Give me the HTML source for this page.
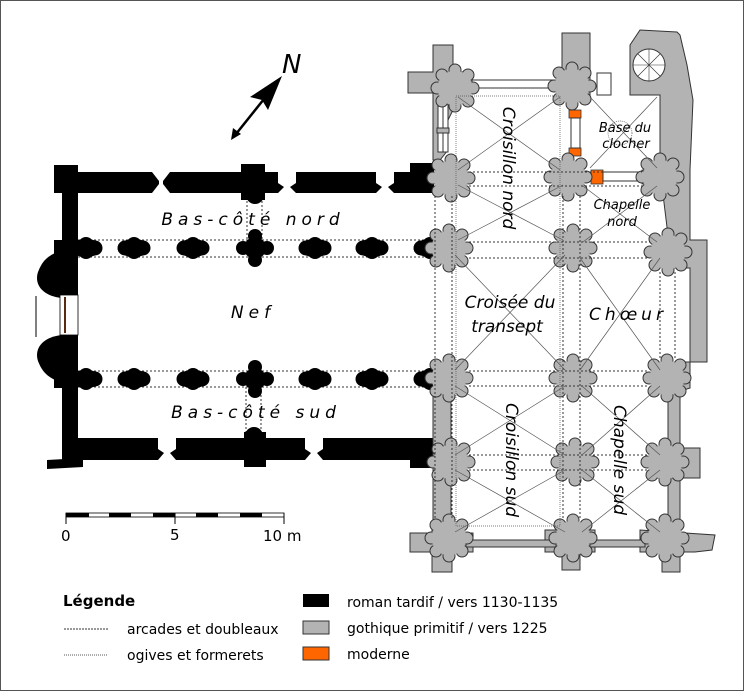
<!DOCTYPE html>
<html><head><meta charset="utf-8"><style>
html,body{margin:0;padding:0;background:#fff}
svg{display:block}
text{font-family:"DejaVu Sans","Liberation Sans",sans-serif}
</style></head><body>
<svg width="744" height="691" viewBox="0 0 744 691" xmlns="http://www.w3.org/2000/svg">
<defs>
<g id="gp"><circle r="16" fill="#b3b3b3" stroke="#333" stroke-width="1"/>
<circle cx="0" cy="-18" r="6" fill="#b3b3b3" stroke="#333" stroke-width="1"/><circle cx="13" cy="-13" r="6" fill="#b3b3b3" stroke="#333" stroke-width="1"/><circle cx="18" cy="0" r="6" fill="#b3b3b3" stroke="#333" stroke-width="1"/><circle cx="13" cy="13" r="6" fill="#b3b3b3" stroke="#333" stroke-width="1"/><circle cx="0" cy="18" r="6" fill="#b3b3b3" stroke="#333" stroke-width="1"/><circle cx="-13" cy="13" r="6" fill="#b3b3b3" stroke="#333" stroke-width="1"/><circle cx="-18" cy="0" r="6" fill="#b3b3b3" stroke="#333" stroke-width="1"/><circle cx="-13" cy="-13" r="6" fill="#b3b3b3" stroke="#333" stroke-width="1"/><circle r="17.5" fill="#b3b3b3"/></g>
<g id="bp"><ellipse rx="16" ry="9" fill="#000"/><circle cx="-9" r="7.5"/><circle cx="9" r="7.5"/><circle cy="-3" r="8"/><circle cy="3" r="8"/></g>
<g id="bx"><circle r="11"/><circle cx="-12" r="7"/><circle cx="12" r="7"/><circle cy="-12" r="7"/><circle cy="12" r="7"/></g>
</defs>
<rect x="0.5" y="0.5" width="743" height="690" fill="#fff" stroke="#555"/>

<g stroke="#333" stroke-width="1" stroke-dasharray="2,2" fill="none">
<line x1="78" y1="240" x2="435" y2="240"/><line x1="78" y1="257" x2="435" y2="257"/>
<line x1="78" y1="371" x2="435" y2="371"/><line x1="78" y1="387" x2="435" y2="387"/>
<line x1="247" y1="193" x2="247" y2="240"/><line x1="262" y1="193" x2="262" y2="240"/>
<line x1="246" y1="387" x2="246" y2="438"/><line x1="261" y1="387" x2="261" y2="438"/>
</g>

<g fill="#000">
<rect x="54" y="172" width="380" height="21"/>
<rect x="54" y="165" width="24" height="28"/>
<rect x="62" y="165" width="16" height="300"/>
<rect x="62" y="438" width="372" height="22"/>
<polygon points="47,460 83,458 83,467 47,469"/>
<rect x="241" y="164" width="24" height="36"/>
<rect x="244" y="432" width="22" height="35"/>
<rect x="410" y="163" width="24" height="30"/>
<rect x="410" y="438" width="24" height="30"/>
<rect x="54" y="240" width="24" height="17"/>
<rect x="54" y="371" width="24" height="17"/>
<path d="M62,250 C46,256 42,262 38,272 C34,284 42,296 62,298 Z"/>
<path d="M62,335 C42,337 34,349 38,361 C42,371 46,377 62,383 Z"/>
<use href="#bp" x="86" y="248"/><use href="#bp" x="134" y="248"/><use href="#bp" x="193" y="248"/><use href="#bx" x="255" y="248"/><use href="#bp" x="315" y="248"/><use href="#bp" x="372" y="248"/><use href="#bp" x="430" y="248"/>
<use href="#bp" x="86" y="379"/><use href="#bp" x="134" y="379"/><use href="#bp" x="193" y="379"/><use href="#bx" x="255" y="379"/><use href="#bp" x="315" y="379"/><use href="#bp" x="372" y="379"/><use href="#bp" x="430" y="379"/>
<circle cx="255" cy="195" r="9"/><circle cx="254" cy="436" r="9"/>
</g>
<line x1="36" y1="296" x2="36" y2="337" stroke="#000"/>
<rect x="60" y="295" width="18" height="40" fill="#fff" stroke="#000" stroke-width="0.8"/>
<line x1="65" y1="297" x2="65" y2="333" stroke="#5a2a10" stroke-width="2"/>
<g fill="#fff">
<polygon points="152,172 170,172 163,181 163,184 170,193 152,193 159,184 159,181"/>
<polygon points="278,172 296,172 296,183 290,187 296,193 278,193 284,187 278,183"/>
<polygon points="376,172 394,172 394,183 388,187 394,193 376,193 382,187 376,183"/>
<polygon points="158,438 176,438 176,449 170,453 176,460 158,460 164,453 158,449"/>
<polygon points="305,438 323,438 323,449 317,453 323,460 305,460 311,453 305,449"/>
</g>

<g fill="#b3b3b3" stroke="#333" stroke-width="1">
<polygon points="433,45 453,45 453,72 472,72 472,93 453,93 453,110 448,120 448,150 440,160 433,160 433,93 408,93 408,72 433,72"/>
<polygon points="562,33 590,33 590,95 562,95"/>
<polygon points="630,45 640,30 677,32 680,35 687,65 693,100 690,170 690,240 707,240 707,362 690,362 690,268 672,268 660,170 660,95 630,95"/>
<polygon points="685,362 690,362 690,388 668,395 668,380"/>
<rect x="668" y="390" width="12" height="140"/>
<polygon points="650,448 700,448 700,478 650,478"/>
<rect x="433" y="388" width="18" height="140"/>
<polygon points="410,533 432,533 432,528 452,528 452,533 473,533 473,552 452,552 452,572 432,572 432,552 410,552"/>
<polygon points="545,530 595,530 595,552 580,552 580,570 562,570 562,552 545,552"/>
<polygon points="640,530 715,535 712,550 695,552 680,552 680,572 662,572 662,552 640,552"/>
<rect x="466" y="540" width="90" height="7"/>
<rect x="590" y="540" width="55" height="7"/>
</g>
<rect x="438" y="97" width="10" height="55" fill="#fff" stroke="#333"/>
<line x1="443" y1="97" x2="443" y2="152" stroke="#333"/>
<rect x="437" y="128" width="12" height="5" fill="#b3b3b3" stroke="#333"/>
<g fill="#fff" stroke="#333" stroke-width="1">
<rect x="472" y="80" width="90" height="8"/>
<circle cx="649" cy="65" r="16"/>
<rect x="597" y="73" width="14" height="22"/>
</g>
<g stroke="#333" stroke-width="0.6">
<line x1="649" y1="49" x2="649" y2="81"/><line x1="633" y1="65" x2="665" y2="65"/><line x1="638" y1="54" x2="660" y2="76"/><line x1="660" y1="54" x2="638" y2="76"/>
</g>
<g fill="#f60" stroke="#333" stroke-width="0.8">
<rect x="569" y="110" width="12" height="8"/><rect x="569" y="148" width="12" height="8"/>
<rect x="591" y="170" width="12" height="14"/><rect x="642" y="170" width="12" height="14"/>
</g>
<rect x="571" y="118" width="9" height="30" fill="#fff" stroke="#333"/>
<rect x="603" y="172" width="39" height="9" fill="#fff" stroke="#333"/>

<g>
<use href="#gp" x="451" y="178"/><use href="#gp" x="568" y="177"/><use href="#gp" x="660" y="177"/>
<use href="#gp" x="449" y="248"/><use href="#gp" x="573" y="248"/><use href="#gp" x="668" y="252"/>
<use href="#gp" x="449" y="378"/><use href="#gp" x="573" y="378"/><use href="#gp" x="667" y="378"/>
<use href="#gp" x="451" y="462"/><use href="#gp" x="575" y="462"/><use href="#gp" x="665" y="462"/>
<use href="#gp" x="449" y="538"/><use href="#gp" x="573" y="538"/><use href="#gp" x="665" y="538"/>
<use href="#gp" x="455" y="88"/><use href="#gp" x="572" y="86"/>
</g>

<g stroke="#333" stroke-width="1" stroke-dasharray="2,2" fill="none">
<line x1="435" y1="196" x2="435" y2="520"/><line x1="452" y1="196" x2="452" y2="520"/>
<line x1="563" y1="196" x2="563" y2="520"/><line x1="580" y1="196" x2="580" y2="520"/>
<line x1="660" y1="272" x2="660" y2="360"/><line x1="675" y1="272" x2="675" y2="360"/>
<line x1="469" y1="172" x2="642" y2="172"/><line x1="469" y1="186" x2="642" y2="186"/>
<line x1="469" y1="242" x2="650" y2="242"/><line x1="469" y1="258" x2="650" y2="258"/>
<line x1="469" y1="371" x2="649" y2="371"/><line x1="469" y1="386" x2="649" y2="386"/>
<line x1="469" y1="455" x2="647" y2="455"/><line x1="469" y1="470" x2="647" y2="470"/>
</g>
<g stroke="#555" stroke-width="0.7" fill="none">
<rect x="456" y="96" width="104" height="430" stroke-dasharray="1,1"/>
<line x1="458" y1="97" x2="560" y2="170"/><line x1="560" y1="97" x2="458" y2="170"/>
<line x1="458" y1="185" x2="563" y2="240"/><line x1="563" y1="185" x2="458" y2="240"/>
<line x1="590" y1="97" x2="657" y2="168"/><line x1="657" y1="97" x2="590" y2="168"/>
<line x1="583" y1="186" x2="657" y2="242"/><line x1="657" y1="186" x2="583" y2="242"/>
<line x1="455" y1="255" x2="565" y2="370"/><line x1="565" y1="255" x2="455" y2="370"/>
<line x1="580" y1="258" x2="660" y2="370"/><line x1="660" y1="258" x2="580" y2="370"/>
<line x1="455" y1="386" x2="565" y2="455"/><line x1="565" y1="386" x2="455" y2="455"/>
<line x1="455" y1="470" x2="565" y2="532"/><line x1="565" y1="470" x2="455" y2="532"/>
<line x1="582" y1="386" x2="660" y2="455"/><line x1="660" y1="386" x2="582" y2="455"/>
<line x1="582" y1="470" x2="660" y2="532"/><line x1="660" y1="470" x2="582" y2="532"/>
<circle cx="620" cy="133" r="12" stroke-dasharray="1,1"/>
</g>

<g font-style="italic" fill="#000">
<text x="253" y="225" font-size="17" text-anchor="middle" letter-spacing="5">Bas-côté nord</text>
<text x="253" y="318" font-size="17" text-anchor="middle" letter-spacing="5">Nef</text>
<text x="256" y="418" font-size="17" text-anchor="middle" letter-spacing="5">Bas-côté sud</text>
<text x="510" y="308" font-size="17" text-anchor="middle">Croisée du</text>
<text x="507" y="332" font-size="17" text-anchor="middle">transept</text>
<text x="628" y="320" font-size="17" text-anchor="middle" letter-spacing="4">Chœur</text>
<text x="625" y="132" font-size="13" text-anchor="middle">Base du</text>
<text x="626" y="148" font-size="13" text-anchor="middle">clocher</text>
<text x="622" y="209" font-size="13" text-anchor="middle">Chapelle</text>
<text x="622" y="226" font-size="13" text-anchor="middle">nord</text>
<text transform="translate(503,168) rotate(90)" font-size="17" text-anchor="middle">Croisillon nord</text>
<text transform="translate(506,460) rotate(90)" font-size="17" text-anchor="middle">Croisillon sud</text>
<text transform="translate(614,460) rotate(90)" font-size="17" text-anchor="middle">Chapelle sud</text>
</g>

<line x1="236" y1="134" x2="276" y2="84" stroke="#000" stroke-width="2.5"/>
<polygon points="282,76 268,110 262,100 250,97" fill="#000"/>
<polygon points="231,140 233,128 241,134" fill="#000"/>
<text x="282" y="73" font-size="26" font-style="italic" font-family="Liberation Serif,serif">N</text>

<rect x="66" y="513" width="218" height="4" fill="#fff" stroke="#000" stroke-width="0.8"/>
<g fill="#000"><rect x="66" y="513" width="23" height="4"/><rect x="109" y="513" width="22" height="4"/><rect x="153" y="513" width="22" height="4"/><rect x="196" y="513" width="22" height="4"/><rect x="240" y="513" width="22" height="4"/></g>
<g stroke="#000" stroke-width="1"><line x1="66" y1="513" x2="66" y2="524"/><line x1="175" y1="513" x2="175" y2="524"/><line x1="284" y1="513" x2="284" y2="524"/></g>
<g font-size="15"><text x="61" y="541">0</text><text x="170" y="540">5</text><text x="263" y="541">10 m</text></g>

<text x="63" y="606" font-size="15" font-weight="bold">Légende</text>
<line x1="64" y1="629" x2="108" y2="629" stroke="#333" stroke-dasharray="2,1"/>
<line x1="64" y1="655" x2="108" y2="655" stroke="#555" stroke-dasharray="1,1"/>
<g font-size="14">
<text x="127" y="634">arcades et doubleaux</text>
<text x="127" y="660">ogives et formerets</text>
<text x="347" y="607">roman tardif / vers 1130-1135</text>
<text x="347" y="633">gothique primitif / vers 1225</text>
<text x="347" y="659">moderne</text>
</g>
<rect x="303" y="594" width="26" height="13" fill="#000"/>
<rect x="303" y="621" width="26" height="13" fill="#b3b3b3" stroke="#333"/>
<rect x="303" y="647" width="26" height="13" fill="#f60" stroke="#333"/>
</svg>
</body></html>
